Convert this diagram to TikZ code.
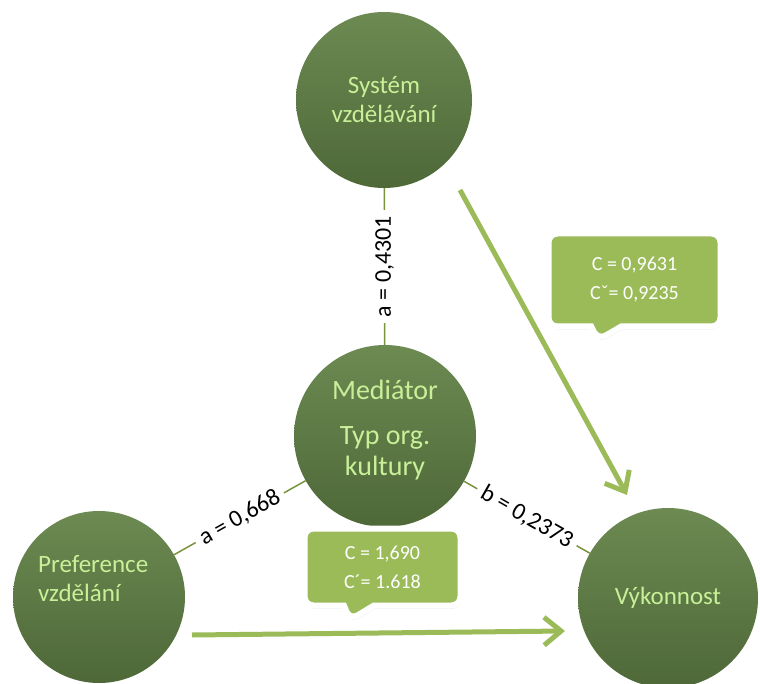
\documentclass[tikz,border=0pt]{standalone}
\usepackage{fontspec}
\setmainfont{Carlito}
\usetikzlibrary{arrows.meta, shapes.callouts, shadows}
\definecolor{olivelight}{RGB}{108,138,82}
\definecolor{olivedark}{RGB}{78,104,56}
\definecolor{leaf}{RGB}{155,187,89}
\definecolor{stem}{RGB}{119,147,60}
\definecolor{sprout}{RGB}{200,240,152}

\begin{document}
\begin{tikzpicture}[x=1pt, y=-1pt,
  circ/.style={circle, inner sep=0pt, top color=olivelight, bottom color=olivedark,
    draw=none, text=sprout, align=center, font=\fontsize{25}{29}\selectfont},
  circtext/.style={inner sep=0pt, text=sprout, font=\fontsize{25}{29}\selectfont},
  link/.style={stem, line width=1.5pt},
  lbl/.style={fill=white, text=black, inner sep=6pt, font=\fontsize{24}{28}\selectfont},
  flow/.style={leaf, line width=5pt, -{Straight Barb[length=17pt, width=28pt]}},
  callbox/.style={rectangle callout, rounded corners=9pt, fill=leaf, draw=white,
    line width=6pt, text=white, align=center, callout pointer width=30pt,
    font=\fontsize{20}{29}\selectfont,
    drop shadow={opacity=0.3, shadow xshift=1pt, shadow yshift=-3pt}}]
  \useasboundingbox (0,0) rectangle (760,684);
  % Circles
  \node[circ, minimum size=176pt] (sys) at (384,100) {Systém\\vzdělávání};
  \node[circ, minimum size=182pt] (med) at (385,436) {};
  \node[circ, minimum size=172pt] (pref) at (99,597) {};
  \node[circ, minimum size=180pt] (vyk) at (668,598) {Výkonnost};
  \node[circtext, align=center, font=\fontsize{28}{31}\selectfont] (medlbl) at (385,430)
    {Mediátor\\[14pt]Typ org.\\kultury};
  \node[circtext, align=left, anchor=west] (preflbl) at (38,579) {Preference\\vzdělání};
  % Paths through the mediator
  \draw[link] (med) -- node[lbl, rotate=90] {a = 0,4301} (sys);
  \draw[link] (pref) -- node[lbl, sloped] {a = 0,668} (med);
  \draw[link] (med) -- node[lbl, sloped] {b = 0,2373} (vyk);
  % Direct effects
  \coordinate (sysout) at (460,190);
  \coordinate (vykin) at (627,495);
  \coordinate (prefout) at (192,635);
  \coordinate (vykleft) at (565,631);
  \draw[flow] (sysout) -- (vykin);
  \draw[flow] (prefout) -- (vykleft);
  % Callouts
  \node[callbox, minimum width=172pt, minimum height=93pt,
    callout absolute pointer={(598,340)}] (ctop) at (634.5,280) {C = 0,9631\\Cˇ= 0,9235};
  \node[callbox, minimum width=156pt, minimum height=77pt,
    callout absolute pointer={(350,620)}] (cbot) at (382.5,567) {C = 1,690\\C´= 1.618};
\end{tikzpicture}
\end{document}
